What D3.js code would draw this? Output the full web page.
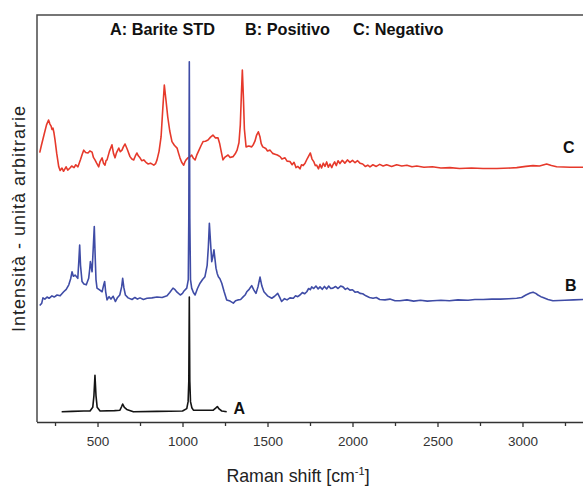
<!DOCTYPE html>
<html><head><meta charset="utf-8">
<script src="https://cdn.jsdelivr.net/npm/d3@7"></script>
<style>body{margin:0;background:#fff}svg{display:block}</style>
</head><body><svg id="c" width="583" height="487"></svg>
<script>
// Raman shift (cm-1), intensity (arbitrary units, offset per spectrum)
const spectrumA = [[289,2.5],[350,2.6],[420,2.7],[456,2.7],[472,3.6],[479,6.5],[485,11.5],[491,6.5],[498,3.6],[515,2.7],[600,2.8],[632,2.9],[642,3.8],[648,4.4],[658,3.6],[672,3.1],[711,2.5],[850,2.6],[1000,2.7],[1025,3.3],[1033,5.0],[1037,10],[1040,30.7],[1043,10],[1047,5.0],[1055,3.5],[1064,2.9],[1181,2.9],[1195,3.4],[1205,3.8],[1215,3.2],[1231,2.7],[1260,2.5]];

const spectrumB = [[160,28.6],[172,29.2],[179,30.5],[190,30.2],[203,30.7],[215,30.4],[232,31.0],[245,30.7],[262,31.2],[280,31.0],[301,32.0],[316,32.6],[331,33.7],[342,35.2],[350,36.9],[358,35.8],[368,36.1],[378,35.6],[384,35.3],[390,39.5],[395,43.5],[400,38.5],[409,34.5],[420,33.9],[434,33.7],[448,35.3],[454,37.5],[458,39.4],[463,38.2],[468,36.9],[474,42.0],[481,48.0],[486,41.0],[491,35.0],[497,32.9],[510,32.5],[527,32.0],[537,33.8],[542,34.5],[548,32.0],[556,30.0],[568,30.8],[579,30.2],[592,30.9],[605,29.6],[618,30.6],[631,31.2],[642,33.2],[648,35.3],[655,33.0],[664,31.2],[680,30.5],[703,30.1],[720,30.6],[735,30.2],[750,30.5],[770,30.1],[791,30.4],[820,30.5],[850,30.7],[880,30.6],[909,31.0],[925,31.8],[944,32.9],[956,32.5],[968,31.9],[987,31.2],[1000,31.6],[1009,32.2],[1025,32.9],[1034,35],[1037,50],[1040,88.5],[1043,50],[1047,35],[1054,32.9],[1064,31.8],[1074,31.2],[1088,32.8],[1103,34.1],[1118,35.0],[1132,35.7],[1145,38.5],[1152,43.0],[1158,48.8],[1165,44.0],[1172,39.4],[1178,40.5],[1185,42.3],[1191,40.0],[1197,37.8],[1204,36.5],[1211,35.7],[1220,35.2],[1231,34.1],[1245,32.0],[1260,30.0],[1280,29.7],[1299,29.2],[1312,29.8],[1326,30.0],[1342,30.1],[1358,30.8],[1368,31.2],[1378,32.0],[1392,32.6],[1407,33.5],[1420,32.4],[1432,31.6],[1444,33.2],[1456,35.6],[1467,33.4],[1479,32.0],[1500,31.0],[1525,30.4],[1542,30.9],[1560,31.6],[1572,30.6],[1583,29.6],[1600,30.3],[1615,30.0],[1632,30.5],[1652,30.4],[1665,31.0],[1678,30.8],[1691,31.2],[1705,31.8],[1718,31.5],[1731,32.0],[1742,32.8],[1752,32.5],[1760,33.2],[1772,32.8],[1785,33.4],[1798,32.7],[1809,33.2],[1822,32.6],[1835,33.3],[1848,32.7],[1860,33.4],[1872,32.8],[1885,32.9],[1900,33.3],[1915,32.8],[1930,33.4],[1944,33.2],[1958,32.6],[1970,32.9],[1985,32.4],[2000,32.5],[2015,31.9],[2030,32.0],[2044,31.6],[2060,31.5],[2079,31.0],[2100,30.6],[2121,30.4],[2140,30.6],[2160,30.1],[2191,30.0],[2220,30.2],[2250,29.8],[2279,29.8],[2320,30.0],[2360,29.7],[2400,29.9],[2440,29.7],[2473,29.8],[2520,29.9],[2570,29.8],[2620,30.0],[2680,29.9],[2720,30.1],[2768,30.1],[2820,30.2],[2870,30.2],[2920,30.3],[2966,30.4],[2995,30.6],[3020,31.2],[3045,31.7],[3062,31.9],[3078,31.6],[3091,31.2],[3108,30.8],[3121,30.6],[3150,30.1],[3179,29.8],[3250,29.9],[3300,30.0],[3356,30.1]];

const spectrumC = [[160,66.2],[170,68.0],[185,70.5],[200,73.0],[212,74.2],[220,73.2],[227,72.7],[232,71.9],[238,72.2],[244,71.0],[250,69.3],[260,66.0],[272,62.7],[280,61.8],[291,62.4],[300,61.6],[315,62.7],[325,61.9],[338,62.4],[348,62.9],[362,62.5],[372,63.2],[385,62.7],[400,64.5],[410,65.8],[419,66.8],[430,66.2],[444,66.1],[455,66.6],[468,66.3],[476,65.0],[485,64.4],[495,63.6],[507,62.7],[515,64.0],[527,64.9],[535,63.6],[544,63.1],[550,64.2],[556,64.4],[570,66.5],[585,68.1],[594,66.0],[603,64.9],[612,66.2],[625,67.3],[634,66.4],[644,66.8],[652,67.6],[662,68.3],[675,67.0],[691,65.2],[702,64.6],[713,64.4],[722,65.3],[732,66.1],[740,65.4],[750,64.9],[760,64.2],[772,64.4],[785,63.8],[797,63.4],[812,63.6],[831,63.1],[842,63.5],[850,64.4],[862,66.5],[874,70.1],[884,77.0],[893,82.8],[903,79.0],[913,75.0],[925,71.5],[938,68.9],[952,68.0],[968,67.3],[977,66.0],[985,64.9],[995,63.8],[1007,63.1],[1014,63.9],[1021,64.4],[1032,64.9],[1043,65.1],[1054,65.6],[1064,64.8],[1074,64.4],[1085,65.7],[1097,66.8],[1110,68.0],[1121,68.9],[1135,69.0],[1150,69.3],[1165,70.0],[1179,70.5],[1194,69.8],[1209,69.8],[1218,68.5],[1230,66.0],[1238,64.4],[1250,65.1],[1268,65.6],[1280,65.0],[1297,65.2],[1310,65.9],[1321,66.8],[1332,68.6],[1340,73.0],[1346,80.0],[1352,86.5],[1358,80.0],[1364,72.0],[1374,67.6],[1390,67.8],[1407,67.6],[1417,68.2],[1426,69.0],[1436,70.5],[1446,71.3],[1456,70.0],[1463,68.4],[1472,67.6],[1490,67.2],[1500,66.6],[1515,66.8],[1530,66.0],[1544,65.8],[1558,65.6],[1574,65.2],[1585,64.6],[1603,64.9],[1615,64.1],[1632,64.0],[1645,63.2],[1656,63.8],[1668,62.5],[1679,62.8],[1691,62.2],[1700,63.2],[1710,63.0],[1721,63.6],[1735,64.8],[1752,66.1],[1762,64.6],[1773,63.9],[1781,63.0],[1789,63.1],[1800,62.2],[1809,63.3],[1818,62.4],[1828,63.6],[1838,62.8],[1848,63.9],[1858,62.6],[1868,63.4],[1878,62.5],[1885,63.2],[1895,63.9],[1905,63.0],[1915,64.2],[1926,63.5],[1940,64.3],[1955,63.6],[1970,64.4],[1985,63.8],[2000,64.3],[2015,63.7],[2030,64.2],[2044,63.6],[2060,63.4],[2075,62.8],[2090,63.1],[2103,62.7],[2120,63.2],[2140,62.8],[2160,63.3],[2180,62.9],[2201,63.2],[2230,62.8],[2260,63.2],[2290,62.9],[2320,63.1],[2350,62.7],[2378,62.9],[2420,62.6],[2470,62.7],[2520,62.4],[2573,62.5],[2630,62.3],[2700,62.4],[2768,62.3],[2850,62.3],[2930,62.4],[2966,62.5],[3020,62.8],[3062,63.0],[3100,62.9],[3142,63.4],[3170,63.0],[3201,62.7],[3280,62.6],[3356,62.6]];

const xTicks = [500,1000,1500,2000,2500,3000];
const xMinorTicks = [250,750,1250,1750,2250,2750,3250];
const legendLabels = ["A: Barite STD","B: Positivo","C: Negativo"];
const seriesLabels = ["A","B","C"];
const seriesColors = ["#141414","#3f4ca6","#e6392b"];

const svg = d3.select("#c");
const L = 37, T = 15, R = 583, B = 422;
const x = d3.scaleLinear().domain([144, 3356]).range([L, R]);
const y = d3.scaleLinear().domain([0, 100]).range([B, T]);

svg.append("defs").append("clipPath").attr("id","clip")
  .append("rect").attr("x",L).attr("y",T).attr("width",R-L+5).attr("height",B-T);

// frame
svg.append("path").attr("d",`M${R+5},${T}H${L}V${B}`)
  .attr("fill","none").attr("stroke","#4a4a4a").attr("stroke-width",1.5);

// x axis
const ax = svg.append("g").attr("transform",`translate(0,${B})`)
  .call(d3.axisBottom(x).tickValues(xTicks).tickSize(5).tickPadding(9).tickSizeOuter(0).tickFormat(d3.format("d")));
ax.select(".domain").attr("stroke","#333").attr("stroke-width",1.5).attr("d",`M${L},0.5H${R+5}`);
ax.selectAll(".tick line").attr("stroke","#333").attr("stroke-width",1.3);
ax.selectAll(".tick text").attr("fill","#333").style("font-family","Liberation Sans, Arial, sans-serif").style("font-size","13.5px");
const mg = svg.append("g").attr("transform",`translate(0,${B})`)
  .call(d3.axisBottom(x).tickValues(xMinorTicks).tickSize(4).tickFormat(""));
mg.select(".domain").remove();
mg.selectAll(".tick line").attr("stroke","#333").attr("stroke-width",1.3);

// spectra
const line = d3.line().x(d=>x(d[0])).y(d=>y(d[1]));
const g = svg.append("g").attr("clip-path","url(#clip)");
[[spectrumC,2],[spectrumB,1],[spectrumA,0]].forEach(([data,i])=>{
  g.append("path").datum(data).attr("d",line).attr("fill","none")
    .attr("stroke",seriesColors[i]).attr("stroke-width",1.6).attr("stroke-linejoin","round");
});

// series labels
const labelPos = [[1300,2.0],[3250,32.3],[3238,66.0]];
seriesLabels.forEach((t,i)=>{
  svg.append("text").attr("x",x(labelPos[i][0])).attr("y",y(labelPos[i][1]))
    .text(t).attr("fill","#111").style("font-family","Liberation Sans, Arial, sans-serif")
    .style("font-weight","bold").style("font-size","16px");
});

// legend
const legX = [110,245,353];
legendLabels.forEach((t,i)=>{
  svg.append("text").attr("x",legX[i]).attr("y",34.5).text(t).attr("fill","#111")
    .style("font-family","Liberation Sans, Arial, sans-serif").style("font-weight","bold").style("font-size","16.3px");
});

// axis titles
const xt = svg.append("text").attr("x",298).attr("y",482).attr("text-anchor","middle")
  .attr("fill","#222").style("font-family","Liberation Sans, Arial, sans-serif").style("font-size","17.8px");
xt.append("tspan").text("Raman shift [cm");
xt.append("tspan").text("-1").attr("dy","-7").style("font-size","11px");
xt.append("tspan").text("]").attr("dy","7");

svg.append("text").attr("transform","translate(25,219) rotate(-90)").attr("text-anchor","middle")
  .attr("fill","#222").style("font-family","Liberation Sans, Arial, sans-serif").style("font-size","18px")
  .attr("textLength",226).attr("lengthAdjust","spacing")
  .text("Intensità - unità arbitrarie");
</script></body></html>
